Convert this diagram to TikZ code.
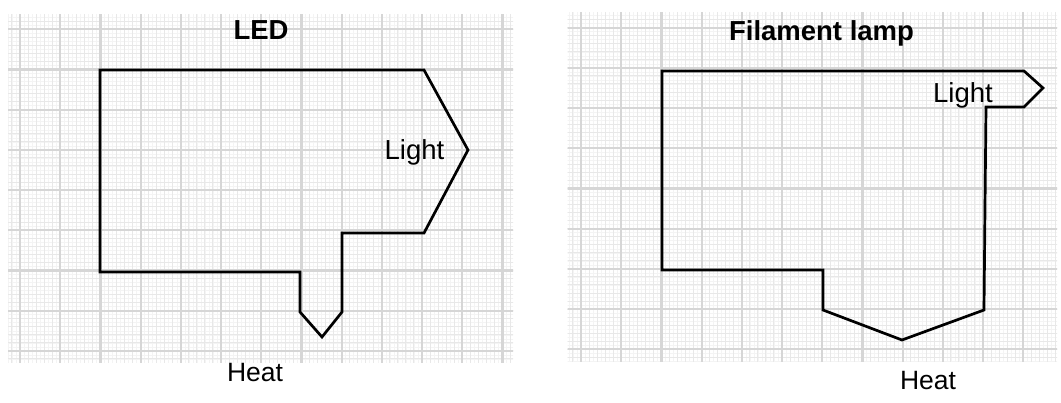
\documentclass[tikz,border=0pt]{standalone}
\usepackage{fontspec}
\setmainfont{Liberation Sans}
\begin{document}
\begin{tikzpicture}[x=1pt,y=-1pt,
  finest/.style={draw=gray!9,line width=0.6pt},
  minor/.style={draw=gray!18,line width=1pt},
  major/.style={draw=gray!32,line width=2.2pt},
  outline/.style={draw=black,line width=2.7pt,line join=miter},
  lbl/.style={anchor=base,inner sep=0pt,font=\fontsize{27.5}{33}\selectfont},
  heatlbl/.style={anchor=base,inner sep=0pt,font=\fontsize{26.5}{32}\selectfont},
  ttl/.style={anchor=base,inner sep=0pt,font=\fontsize{27.5}{33}\selectfont\bfseries}]
\useasboundingbox (0,0) rectangle (1061,403);
% ---------- left graph paper ----------
\begin{scope}
  \clip (8,14.7) rectangle (513,362.5);
  \foreach \i in {-6,...,130} \draw[finest] ({16+4.02*\i},0) -- ++(0,403);
  \foreach \i in {-6,...,90} \draw[finest] (0,{25.3+4.02*\i}) -- ++(1061,0);
  \foreach \i in {-2,...,65} \draw[minor] ({20+8.04*\i},0) -- ++(0,403);
  \foreach \i in {-2,...,45} \draw[minor] (0,{29.3+8.04*\i}) -- ++(1061,0);
  \foreach \i in {0,...,12} \draw[major] ({20+40.2*\i},0) -- ++(0,403);
  \foreach \i in {0,...,8} \draw[major] (0,{29.3+40.2*\i}) -- ++(1061,0);
\end{scope}
% ---------- right graph paper ----------
\begin{scope}
  \clip (567.7,13) rectangle (1057,362);
  \foreach \i in {-6,...,130} \draw[finest] ({577+4.02*\i},0) -- ++(0,403);
  \foreach \i in {-6,...,90} \draw[finest] (0,{23.7+4.02*\i}) -- ++(1061,0);
  \foreach \i in {-2,...,65} \draw[minor] ({581+8.04*\i},0) -- ++(0,403);
  \foreach \i in {-2,...,45} \draw[minor] (0,{27.7+8.04*\i}) -- ++(1061,0);
  \foreach \i in {0,...,12} \draw[major] ({581+40.2*\i},0) -- ++(0,403);
  \foreach \i in {0,...,8} \draw[major] (0,{27.7+40.2*\i}) -- ++(1061,0);
\end{scope}
% ---------- LED Sankey outline ----------
\draw[outline] (100,70) -- (424,70) -- (468,150) -- (424,233) -- (342,233)
  -- (342,312) -- (322,337) -- (300,312) -- (300,272) -- (100,272) -- cycle;
% ---------- Filament lamp Sankey outline ----------
\draw[outline] (662,71) -- (1024,71) -- (1043,88) -- (1024,107) -- (986,107)
  -- (984,310) -- (902,340) -- (823,310) -- (823,270) -- (662,270) -- cycle;
% ---------- texts ----------
\node[ttl] (ledtitle) at (261,39.3) {LED};
\node[ttl] (lamptitle) at (821.5,40.7) {Filament lamp};
\node[lbl] (ledlight) at (414.5,159.3) {Light};
\node[lbl] (lamplight) at (963,102.7) {Light};
\node[heatlbl] (ledheat) at (255,381.5) {Heat};
\node[heatlbl] (lampheat) at (928,389.5) {Heat};
\end{tikzpicture}
\end{document}
